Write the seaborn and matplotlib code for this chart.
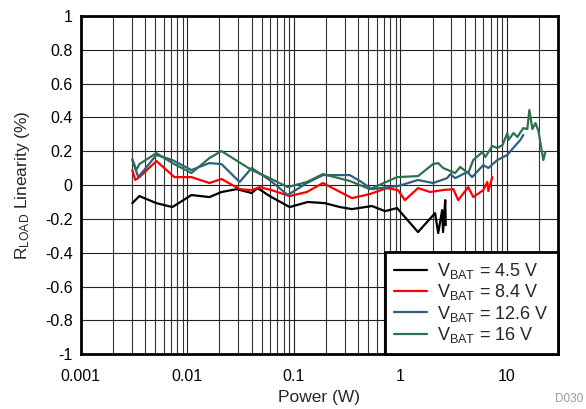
import numpy as np
import pandas as pd
import matplotlib

matplotlib.use('Agg')

import matplotlib.pyplot as plt
from matplotlib.ticker import LogLocator, FixedLocator, NullFormatter
import seaborn as sns

sns.set_style("white")
plt.rcParams['font.family'] = ['Liberation Sans', 'DejaVu Sans']
plt.rcParams['mathtext.fontset'] = 'custom'
plt.rcParams['mathtext.rm'] = 'Liberation Sans'
plt.rcParams['mathtext.it'] = 'Liberation Sans:italic'

# power (W) and linearity (%) for each battery voltage
p_45 = [0.00304, 0.00354, 0.00512, 0.00723, 0.0109, 0.0161, 0.0209, 0.0290, 0.0401, 0.0456,
        0.0591, 0.0912, 0.135, 0.195, 0.270, 0.350, 0.540, 0.716, 0.929, 1.46,
        2.11, 2.26, 2.46, 2.51, 2.63, 2.66]
v_45 = [-0.107, -0.065, -0.107, -0.130, -0.059, -0.071, -0.041, -0.024, -0.047, -0.018,
        -0.065, -0.130, -0.100, -0.107, -0.130, -0.142, -0.124, -0.154, -0.136, -0.278,
        -0.166, -0.284, -0.148, -0.278, -0.089, -0.237]

p_84 = [0.00304, 0.00324, 0.00354, 0.00512, 0.00755, 0.0109, 0.0161, 0.0209, 0.0309, 0.0401,
        0.0476, 0.0618, 0.0912, 0.132, 0.187, 0.350, 0.516, 0.746, 0.948, 1.10,
        1.46, 1.90, 2.46, 3.13, 3.48, 4.32, 4.82, 5.98, 6.53, 6.68, 7.27]
v_84 = [0.089, 0.030, 0.047, 0.142, 0.047, 0.047, 0.012, 0.036, -0.024, -0.030,
        -0.012, -0.030, -0.065, -0.041, 0.012, -0.077, -0.053, -0.018, -0.030, -0.089,
        -0.018, -0.041, -0.030, -0.024, -0.089, -0.012, -0.071, -0.030, 0.018, -0.036, 0.047]

p_126 = [0.00304, 0.00346, 0.00512, 0.00723, 0.0109, 0.0161, 0.0209, 0.0309, 0.0401, 0.0591,
         0.0875, 0.132, 0.187, 0.335, 0.416, 0.540, 0.766, 0.948, 1.46, 2.02,
         2.74, 2.94, 3.26, 4.23, 4.71, 5.98, 6.68, 8.11, 10.07, 11.2, 13.3, 14.2]
v_126 = [0.148, 0.047, 0.178, 0.148, 0.089, 0.130, 0.124, 0.018, 0.101, 0.030,
         -0.059, 0.012, 0.059, 0.059, 0.024, -0.024, -0.012, -0.006, 0.030, 0.012,
         0.041, 0.065, 0.041, 0.077, 0.047, 0.118, 0.101, 0.148, 0.178, 0.213, 0.266, 0.296]

p_16 = [0.00304, 0.00331, 0.00354, 0.00512, 0.00723, 0.0109, 0.0161, 0.0209, 0.0401, 0.0591,
        0.0875, 0.132, 0.187, 0.335, 0.516, 0.929, 1.46, 2.02, 2.26, 2.51,
        3.26, 3.63, 4.32, 4.82, 5.87, 6.25, 7.27, 8.11, 9.08, 10.07,
        10.3, 11.5, 12.5, 14.2, 15.5, 16.2, 17.3, 18.5, 19.7, 21.9, 22.9]
v_16 = [0.154, 0.089, 0.124, 0.189, 0.130, 0.071, 0.160, 0.201, 0.089, 0.041,
        -0.012, 0.018, 0.065, 0.024, -0.024, 0.047, 0.053, 0.124, 0.130, 0.101,
        0.071, 0.107, 0.071, 0.148, 0.195, 0.166, 0.231, 0.219, 0.237, 0.308,
        0.266, 0.308, 0.284, 0.337, 0.331, 0.444, 0.331, 0.367, 0.320, 0.148, 0.195]

labels = [r'V$_{\mathrm{BAT}}$ = 4.5 V', r'V$_{\mathrm{BAT}}$ = 8.4 V',
          r'V$_{\mathrm{BAT}}$ = 12.6 V', r'V$_{\mathrm{BAT}}$ = 16 V']
colors = ['#000000', '#ff0000', '#2f6080', '#2e7050']

frames = []
for lab, p, v in zip(labels, [p_45, p_84, p_126, p_16], [v_45, v_84, v_126, v_16]):
    frames.append(pd.DataFrame({'Power': p, 'Linearity': v, 'Series': lab}))
df = pd.concat(frames, ignore_index=True)

f, ax = plt.subplots(figsize=(5.86, 4.09), dpi=100)
f.subplots_adjust(left=0.138, right=0.952, top=0.961, bottom=0.134)

sns.lineplot(data=df, x='Power', y='Linearity', hue='Series', palette=colors,
             estimator=None, sort=False, linewidth=1.6, ax=ax)

ax.set_xscale('log')
ax.set_xlim(0.001, 30)
ax.set_ylim(-1, 1)
ax.set_yticks(np.arange(-1, 1.01, 0.2))
ax.set_yticklabels(['-1', '-0.8', '-0.6', '-0.4', '-0.2', '0', '0.2', '0.4', '0.6', '0.8', '1'])
ax.xaxis.set_major_locator(FixedLocator([0.001, 0.01, 0.1, 1, 10]))
ax.set_xticklabels(['0.001', '0.01', '0.1', '1', '10'])
ax.xaxis.set_minor_locator(LogLocator(base=10, subs=np.arange(2, 10), numticks=20))
ax.xaxis.set_minor_formatter(NullFormatter())

ax.grid(True, which='major', color='#222222', linewidth=0.8)
ax.grid(True, which='minor', axis='x', color='#333333', linewidth=0.8)
ax.tick_params(which='both', length=0, labelsize=11.5, colors='black')
ax.tick_params(axis='x', pad=11)
ax.tick_params(axis='y', pad=6)

for s in ax.spines.values():
    s.set_color('black')
    s.set_linewidth(2)

ax.set_xlabel('Power (W)', fontsize=12.5, labelpad=4)
ax.set_ylabel(r'R$_{\mathrm{LOAD}}$ Linearity (%)', fontsize=12.5, labelpad=9)

leg = ax.legend(loc='lower right', borderaxespad=0, fancybox=False, fontsize=13,
                handlelength=1.85, labelspacing=0.08, framealpha=1, title=None,
                borderpad=0.5, handletextpad=0.55)
leg.get_frame().set_edgecolor('black')
leg.get_frame().set_linewidth(2)
for line in leg.get_lines():
    line.set_linewidth(1.6)

f.text(0.995, 0.01, 'D030', ha='right', va='bottom', fontsize=8.5, color='#999999')

plt.savefig('out.png', dpi=100)
